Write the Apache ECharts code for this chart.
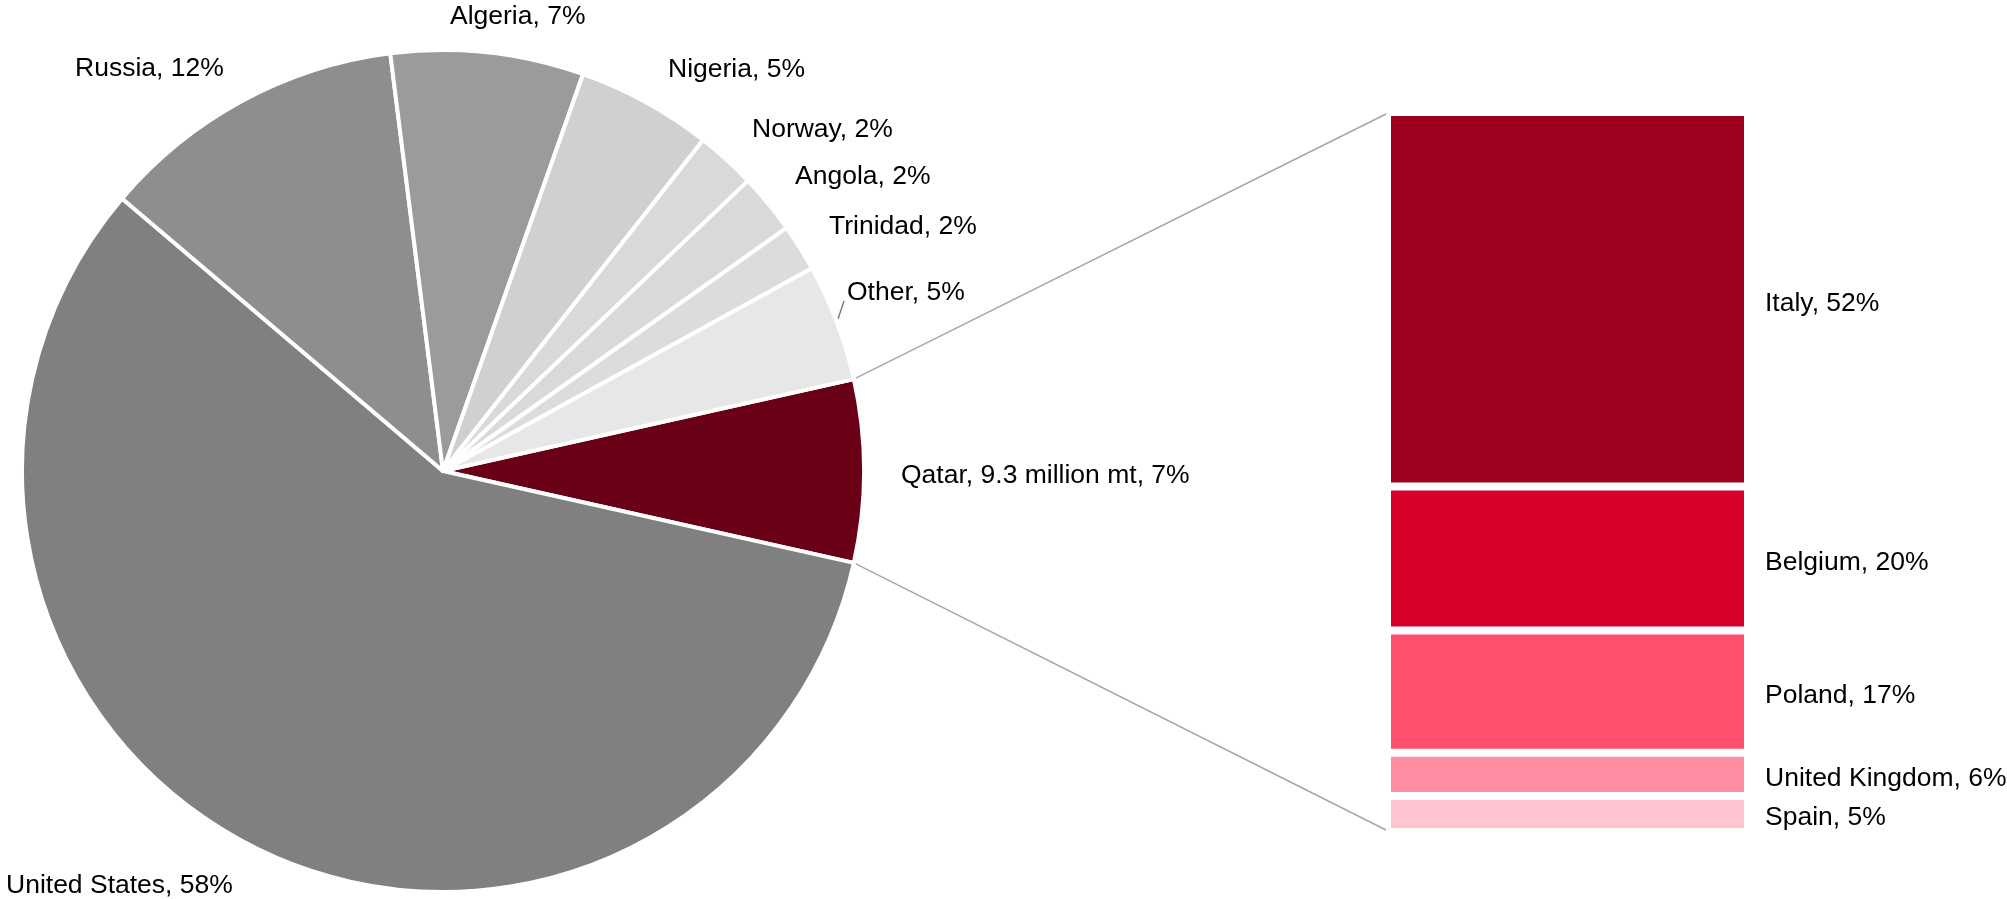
<!DOCTYPE html>
<html>
<head>
<meta charset="utf-8">
<script src="https://cdn.jsdelivr.net/npm/echarts@6/dist/echarts.min.js"></script>
<style>
  html, body { margin: 0; padding: 0; background: #fff; }
  #chart { width: 2007px; height: 899px; }
</style>
</head>
<body>
<div id="chart"></div>
<script>
// pie: share of supply (%), clockwise from Qatar
var pieNames = ["Qatar", "United States", "Russia", "Algeria", "Nigeria", "Norway", "Angola", "Trinidad", "Other"];
var pieValues = [7.0, 57.7, 11.8, 7.4, 5.2, 2.3, 2.3, 1.8, 4.5];
var pieColors = ["#6a0016", "#808080", "#8e8e8e", "#9b9b9b", "#d0d0d0", "#d9d9d9", "#d9d9d9", "#dcdcdc", "#e7e7e7"];
var qatarMt = 9.3;

// bar: where Qatar's volume goes (%)
var destNames = ["Italy", "Belgium", "Poland", "United Kingdom", "Spain"];
var destValues = [52, 20, 17, 6, 5];
var destColors = ["#a00020", "#d6002a", "#ff4f6e", "#ff8ca1", "#ffc4cf"];

// layout
var pieCenter = [443, 471];
var pieRadius = 421;
var barGrid = { left: 1387, top: 112, width: 361, height: 720 };
// label anchors (left / middle) for the pie labels
var pieLabelPos = [
  [901, 476], [6, 886], [75, 69], [450, 17], [668, 70],
  [752, 130], [795, 177], [829, 227], [847, 293]
];

var FONT = "Arial, 'Liberation Sans', sans-serif";
var total = pieValues.reduce(function (a, b) { return a + b; }, 0);
var startAngle = 360 * pieValues[0] / total / 2;

var chart = echarts.init(document.getElementById("chart"));

// connector lines from the Qatar slice to the bar
var a1 = startAngle * Math.PI / 180;
var a2 = (startAngle - 360 * pieValues[0] / total) * Math.PI / 180;
var p1 = [pieCenter[0] + pieRadius * Math.cos(a1), pieCenter[1] - pieRadius * Math.sin(a1)];
var p2 = [pieCenter[0] + pieRadius * Math.cos(a2), pieCenter[1] - pieRadius * Math.sin(a2)];
var barX = barGrid.left - 1;

var barSeries = destNames.map(function (name, i) {
  return {
    name: name,
    type: "bar",
    stack: "dest",
    barWidth: "100%",
    data: [destValues[i]],
    itemStyle: { color: destColors[i], borderColor: "#fff", borderWidth: 4 },
    label: {
      show: true,
      position: "right",
      distance: 17,
      offset: [0, 4],
      formatter: "{a}, {c}%",
      color: "#000",
      fontSize: 26.5,
      fontFamily: FONT
    },
    emphasis: { disabled: true }
  };
});

chart.setOption({
  animation: false,
  backgroundColor: "#fff",
  grid: {
    left: barGrid.left,
    top: barGrid.top,
    width: barGrid.width,
    height: barGrid.height
  },
  xAxis: { type: "category", data: ["Qatar"], show: false },
  yAxis: { type: "value", min: 0, max: 100, inverse: true, show: false },
  series: [
    {
      type: "pie",
      center: pieCenter,
      radius: pieRadius,
      startAngle: startAngle,
      clockwise: true,
      avoidLabelOverlap: false,
      data: pieNames.map(function (n, i) {
        return {
          name: n,
          value: pieValues[i],
          itemStyle: { color: pieColors[i] },
          labelLine: { show: n === "Other" }
        };
      }),
      itemStyle: { borderColor: "#fff", borderWidth: 4 },
      label: {
        show: true,
        position: "outside",
        color: "#000",
        fontSize: 26.5,
        fontFamily: FONT,
        formatter: function (p) {
          var pct = Math.round(p.value);
          if (p.name === "Qatar") return p.name + ", " + qatarMt + " million mt, " + pct + "%";
          return p.name + ", " + pct + "%";
        }
      },
      labelLine: { lineStyle: { color: "#7f7f7f", width: 1.5 } },
      labelLayout: function (params) {
        var pos = pieLabelPos[params.dataIndex];
        var o = { x: pos[0], y: pos[1], align: "left", verticalAlign: "middle" };
        if (pieNames[params.dataIndex] === "Other") {
          o.labelLinePoints = [[838, 319], [841, 310], [844, 301]];
        }
        return o;
      },
      emphasis: { disabled: true }
    }
  ].concat(barSeries),
  graphic: [
    {
      type: "polyline",
      shape: { points: [p1, [barX, barGrid.top + 2]] },
      style: { stroke: "#a6a6a6", lineWidth: 1.5 },
      silent: true
    },
    {
      type: "polyline",
      shape: { points: [p2, [barX, barGrid.top + barGrid.height - 2]] },
      style: { stroke: "#a6a6a6", lineWidth: 1.5 },
      silent: true
    }
  ]
});
</script>
</body>
</html>
